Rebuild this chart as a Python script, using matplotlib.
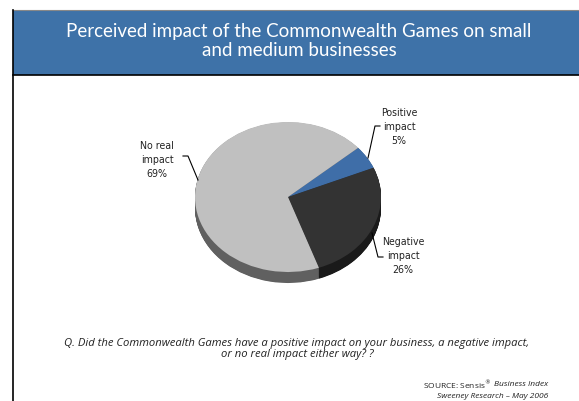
import matplotlib
matplotlib.use("Agg")
import matplotlib.pyplot as plt
from matplotlib.patches import Rectangle
from matplotlib import font_manager
import numpy as np

# Survey shares (percent)
categories = ["Positive\nimpact", "Negative\nimpact", "No real\nimpact"]
values = [5, 26, 69]
top_colors = ["#3F6EA8", "#333333", "#C0C0C0"]
side_colors = ["#2B4F7A", "#1A1A1A", "#606060"]

title = "Perceived impact of the Commonwealth Games on small\nand medium businesses"
question = ("Q. Did the Commonwealth Games have a positive impact on your business, a negative impact,\n"
            "or no real impact either way? ?")

names = {f.name for f in font_manager.fontManager.ttflist}
narrow = "Liberation Sans Narrow" if "Liberation Sans Narrow" in names else "DejaVu Sans"

W, H = 579, 402
fig = plt.figure(figsize=(W / 100, H / 100), dpi=100)
fig.patch.set_facecolor("white")

# Pie geometry in pixels
cx, cy, rx, ry, depth = 288, 198, 93, 75, 11

pie_ax = fig.add_axes([0, 0, 1, 1])
pie_ax.set_axis_off()

start = 41
# side walls: stacked layers below the top face
n_layers = 24
for k in range(n_layers, 0, -1):
    d = depth / ry * k / n_layers
    pie_ax.pie(values, colors=side_colors, startangle=start, counterclock=False,
               center=(0, -d), radius=1, wedgeprops=dict(linewidth=0))
pie_ax.pie(values, colors=top_colors, startangle=start, counterclock=False,
           center=(0, 0), radius=1, wedgeprops=dict(linewidth=0))
pie_ax.set_aspect("auto")
pie_ax.set_xlim((0 - cx) / rx, (W - cx) / rx)
pie_ax.set_ylim((cy - H) / ry, (cy - 0) / ry)

# Overlay in pixel coordinates
ov = fig.add_axes([0, 0, 1, 1], facecolor="none")
ov.set_xlim(0, W)
ov.set_ylim(H, 0)
ov.set_axis_off()

# Title banner
ov.add_patch(Rectangle((13, 11), W - 13, 65, facecolor="#3E72A8", edgecolor="none"))
ov.plot([13, W], [11, 11], color="#888888", lw=0.8)
ov.plot([13, W], [76, 76], color="black", lw=1.2)
ov.plot([13, 13], [11, H], color="black", lw=1.2)
ov.text(299, 41, title, ha="center", va="center", color="white",
        fontsize=13.5, family="Lato", linespacing=1.15)

label_font = dict(family=narrow, fontstretch="condensed", fontsize=7.6, color="#222222",
                  ha="center", va="center", linespacing=1.5)

# Slice labels with leader lines
ov.text(157, 160, f"{categories[2]}\n{values[2]}%", **label_font)
ov.plot([183, 188, 198], [157, 157, 181], color="black", lw=0.8)

ov.text(399, 127, f"{categories[0]}\n{values[0]}%", **label_font)
ov.plot([380, 375, 368], [127, 127, 159], color="black", lw=0.8)

ov.text(403, 256, f"{categories[1]}\n{values[1]}%", **label_font)
ov.plot([383, 378, 372], [258, 258, 234], color="black", lw=0.8)

# Question and source
ov.text(297, 349, question, ha="center", va="center", style="italic",
        family="Open Sans", fontsize=8.1, color="#222222", linespacing=1.05)

src_font = dict(va="center", family="Open Sans", fontsize=6.0, color="#222222")
t_it = ov.text(548, 385, "Business Index", ha="right", style="italic", **src_font)
fig.canvas.draw()
bb = t_it.get_window_extent()
x_left = ov.transData.inverted().transform((bb.x0, bb.y0))[0]
ov.text(x_left - 3, 385, "SOURCE: Sensis$^{\u00ae}$", ha="right", **src_font)
ov.text(548, 397, "Sweeney Research \u2013 May 2006", ha="right",
        style="italic", **src_font)

fig.savefig("out.png", dpi=100)
